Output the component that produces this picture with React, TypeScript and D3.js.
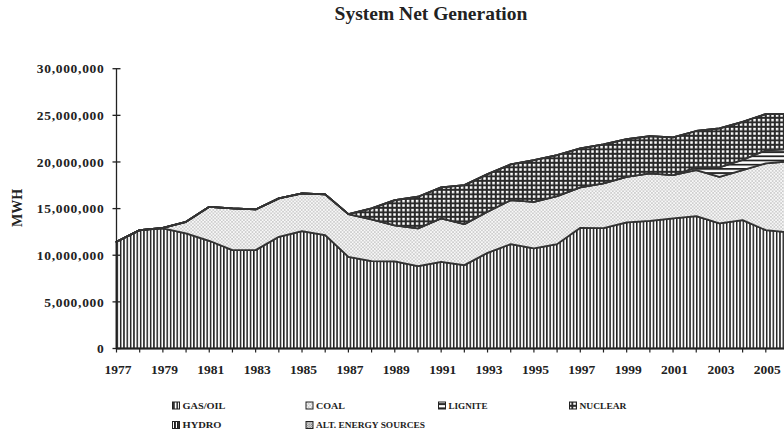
import React, { useEffect, useRef } from "react";
import * as d3 from "d3";

// years on the category axis
const years = [
   1977, 1978, 1979, 1980, 1981, 1982, 1983, 1984, 1985, 1986,
   1987, 1988, 1989, 1990, 1991, 1992, 1993, 1994, 1995, 1996,
   1997, 1998, 1999, 2000, 2001, 2002, 2003, 2004, 2005, 2006,
];

// MWH per source
const gasOil = [
   11440000, 12690000, 12880000, 12340000, 11550000, 10550000, 10550000, 11980000, 12590000, 12160000,
   9830000, 9370000, 9350000, 8830000, 9290000, 8940000, 10260000, 11190000, 10730000, 11190000,
   12940000, 12900000, 13520000, 13690000, 13950000, 14200000, 13410000, 13770000, 12690000, 12460000,
];
const coal = [
   0, 0, 50000, 1240000, 3640000, 4470000, 4360000, 4120000, 4040000, 4360000,
   4580000, 4470000, 3850000, 4050000, 4660000, 4400000, 4400000, 4720000, 5000000, 5150000,
   4340000, 4800000, 4890000, 5090000, 4650000, 4930000, 5000000, 5360000, 7160000, 7610000,
];
const lignite = [
   0, 0, 0, 0, 0, 0, 0, 0, 0, 0,
   0, 0, 0, 0, 0, 0, 0, 0, 0, 0,
   0, 0, 0, 0, 0, 300000, 1000000, 1100000, 1400000, 1300000,
];
const nuclear = [
   0, 0, 0, 0, 0, 0, 0, 0, 0, 0,
   0, 1180000, 2710000, 3390000, 3330000, 4180000, 4040000, 3830000, 4470000, 4400000,
   4180000, 4190000, 4050000, 4000000, 4040000, 3890000, 4200000, 4080000, 3890000, 3770000,
];
const hydro = [
   0, 0, 0, 0, 0, 0, 0, 0, 0, 0,
   0, 0, 0, 0, 0, 0, 0, 0, 0, 0,
   0, 0, 0, 0, 0, 0, 0, 0, 0, 0,
];
const altEnergy = [
   0, 0, 0, 0, 0, 0, 0, 0, 0, 0,
   0, 0, 0, 0, 0, 0, 0, 0, 0, 0,
   0, 0, 0, 0, 0, 0, 0, 0, 0, 0,
];

const seriesKeys = ["gas", "coal", "lignite", "nuclear", "hydro", "alt"];
const seriesLabels = ["GAS/OIL", "COAL", "LIGNITE", "NUCLEAR", "HYDRO", "ALT. ENERGY SOURCES"];
const yTicks = [0, 5000000, 10000000, 15000000, 20000000, 25000000, 30000000];

const FONT = "'Liberation Serif', 'Times New Roman', serif";

const App = () => {
   const svgRef = useRef(null);

   useEffect(() => {
      const svg = d3.select(svgRef.current);
      svg.selectAll("*").remove();

      const table = years.map((yr, i) => ({
         year: yr,
         gas: gasOil[i],
         coal: coal[i],
         lignite: lignite[i],
         nuclear: nuclear[i],
         hydro: hydro[i],
         alt: altEnergy[i],
      }));

      const x = d3.scaleLinear().domain([1977, 2006]).range([116.5, 789]);
      const y = d3.scaleLinear().domain([0, 30000000]).range([348.5, 68.7]);

      // fill patterns
      const defs = svg.append("defs");

      const pGas = defs.append("pattern").attr("id", "p-gas")
         .attr("patternUnits", "userSpaceOnUse").attr("width", 3.33).attr("height", 10);
      pGas.append("rect").attr("width", 3.33).attr("height", 10).attr("fill", "#fff");
      pGas.append("rect").attr("width", 1.5).attr("height", 10).attr("fill", "#1e1e1e");

      const pCoal = defs.append("pattern").attr("id", "p-coal")
         .attr("patternUnits", "userSpaceOnUse").attr("width", 3.4).attr("height", 3.4);
      pCoal.append("rect").attr("width", 3.4).attr("height", 3.4).attr("fill", "#f8f8f8");
      pCoal.append("circle").attr("cx", 0.85).attr("cy", 0.85).attr("r", 0.6).attr("fill", "#888");
      pCoal.append("circle").attr("cx", 2.55).attr("cy", 2.55).attr("r", 0.6).attr("fill", "#888");

      const pLig = defs.append("pattern").attr("id", "p-lig")
         .attr("patternUnits", "userSpaceOnUse").attr("width", 10).attr("height", 4.2);
      pLig.append("rect").attr("width", 10).attr("height", 4.2).attr("fill", "#fff");
      pLig.append("rect").attr("width", 10).attr("height", 1.8).attr("fill", "#222");

      const pNuc = defs.append("pattern").attr("id", "p-nuc")
         .attr("patternUnits", "userSpaceOnUse").attr("width", 4.5).attr("height", 4.5);
      pNuc.append("rect").attr("width", 4.5).attr("height", 4.5).attr("fill", "#2a2a2a");
      pNuc.append("rect").attr("x", 1.8).attr("y", 1.8).attr("width", 2.5).attr("height", 2.5).attr("fill", "#fff");

      const pHyd = defs.append("pattern").attr("id", "p-hyd")
         .attr("patternUnits", "userSpaceOnUse").attr("width", 3).attr("height", 10);
      pHyd.append("rect").attr("width", 3).attr("height", 10).attr("fill", "#fff");
      pHyd.append("rect").attr("width", 1.9).attr("height", 10).attr("fill", "#1e1e1e");

      const pAlt = defs.append("pattern").attr("id", "p-alt")
         .attr("patternUnits", "userSpaceOnUse").attr("width", 2.4).attr("height", 2.4);
      pAlt.append("rect").attr("width", 2.4).attr("height", 2.4).attr("fill", "#eee");
      pAlt.append("circle").attr("cx", 0.6).attr("cy", 0.6).attr("r", 0.6).attr("fill", "#555");
      pAlt.append("circle").attr("cx", 1.8).attr("cy", 1.8).attr("r", 0.6).attr("fill", "#555");

      const fills = ["url(#p-gas)", "url(#p-coal)", "url(#p-lig)", "url(#p-nuc)", "url(#p-hyd)", "url(#p-alt)"];

      // stacked areas
      const stacked = d3.stack().keys(seriesKeys)(table);
      const area = d3.area()
         .x((d) => x(d.data.year))
         .y0((d) => y(d[0]))
         .y1((d) => y(d[1]));

      svg.append("g")
         .selectAll("path")
         .data(stacked)
         .enter()
         .append("path")
         .attr("d", area)
         .attr("fill", (d, i) => fills[i])
         .attr("stroke", "#333")
         .attr("stroke-width", 1.8)
         .attr("stroke-linejoin", "round");

      // y axis
      const yAxis = svg.append("g");
      yAxis.append("line")
         .attr("x1", 116.5).attr("x2", 116.5)
         .attr("y1", y(30000000)).attr("y2", y(0))
         .attr("stroke", "#222").attr("stroke-width", 1.3);
      yAxis.selectAll("line.tick")
         .data(yTicks)
         .enter()
         .append("line")
         .attr("class", "tick")
         .attr("x1", 112.5).attr("x2", 120.5)
         .attr("y1", (d) => y(d)).attr("y2", (d) => y(d))
         .attr("stroke", "#222").attr("stroke-width", 1.3);
      yAxis.selectAll("text")
         .data(yTicks)
         .enter()
         .append("text")
         .attr("x", 104.5)
         .attr("y", (d) => y(d))
         .attr("dy", "0.35em")
         .attr("text-anchor", "end")
         .attr("font-family", FONT)
         .attr("font-weight", "bold")
         .attr("font-size", 13.5)
         .attr("letter-spacing", 0.7)
         .attr("fill", "#222")
         .text((d) => d3.format(",")(d));

      // x axis
      const xAxis = svg.append("g");
      xAxis.append("line")
         .attr("x1", 116.5).attr("x2", 790)
         .attr("y1", y(0)).attr("y2", y(0))
         .attr("stroke", "#222").attr("stroke-width", 1.5);
      xAxis.selectAll("line.tick")
         .data(years)
         .enter()
         .append("line")
         .attr("class", "tick")
         .attr("x1", (d) => x(d)).attr("x2", (d) => x(d))
         .attr("y1", y(0)).attr("y2", y(0) + 4)
         .attr("stroke", "#222").attr("stroke-width", 1.2);
      xAxis.selectAll("text")
         .data(years.filter((d) => d % 2 === 1))
         .enter()
         .append("text")
         .attr("x", (d) => x(d) + 1.5)
         .attr("y", 373.5)
         .attr("text-anchor", "middle")
         .attr("font-family", FONT)
         .attr("font-weight", "bold")
         .attr("font-size", 13.5)
         .attr("fill", "#222")
         .text((d) => d);

      // axis title
      svg.append("text")
         .attr("transform", "translate(21.5, 208) rotate(-90)")
         .attr("text-anchor", "middle")
         .attr("font-family", FONT)
         .attr("font-weight", "bold")
         .attr("font-size", 14)
         .attr("fill", "#222")
         .text("MWH");

      // chart title
      svg.append("text")
         .attr("x", 431)
         .attr("y", 20)
         .attr("text-anchor", "middle")
         .attr("font-family", FONT)
         .attr("font-weight", "bold")
         .attr("font-size", 19.5)
         .attr("fill", "#222")
         .text("System Net Generation");

      // legend
      const legendPos = [
         { ix: 172.5, iy: 402, tl: 43 },
         { ix: 306, iy: 402, tl: 29 },
         { ix: 438.5, iy: 402, tl: 39 },
         { ix: 569.5, iy: 402, tl: 47 },
         { ix: 172.5, iy: 421.5, tl: 39 },
         { ix: 306, iy: 421.5, tl: 109 },
      ];
      const legend = svg.append("g")
         .selectAll("g")
         .data(seriesLabels)
         .enter()
         .append("g");
      legend.append("rect")
         .attr("x", (d, i) => legendPos[i].ix)
         .attr("y", (d, i) => legendPos[i].iy)
         .attr("width", 7)
         .attr("height", 7)
         .attr("fill", (d, i) => fills[i])
         .attr("stroke", "#222")
         .attr("stroke-width", 1);
      legend.append("text")
         .attr("x", (d, i) => legendPos[i].ix + 10)
         .attr("y", (d, i) => legendPos[i].iy + 6.5)
         .attr("font-family", FONT)
         .attr("font-weight", "bold")
         .attr("font-size", 9)
         .attr("fill", "#222")
         .attr("textLength", (d, i) => legendPos[i].tl)
         .attr("lengthAdjust", "spacingAndGlyphs")
         .text((d) => d);
   }, []);

   return (
      <div style={{ position: "absolute", left: 0, top: 0, width: 784, height: 443, overflow: "hidden", background: "#fff" }}>
         <svg ref={svgRef} width={784} height={443}></svg>
      </div>
   );
};

export default App;
